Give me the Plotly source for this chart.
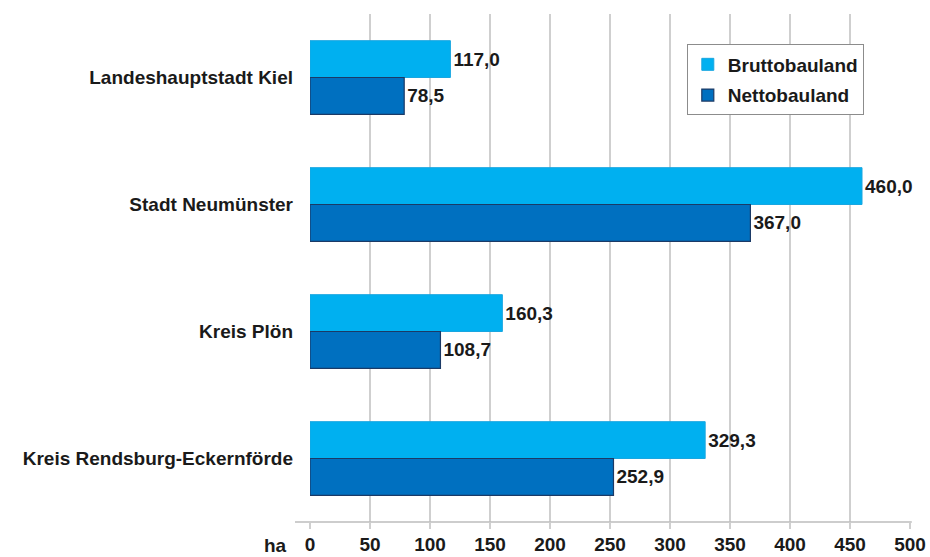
import plotly.graph_objects as go

# Regions and building land areas (ha)
regions = ["Landeshauptstadt Kiel", "Stadt Neumünster", "Kreis Plön", "Kreis Rendsburg-Eckernförde"]
brutto = [117.0, 460.0, 160.3, 329.3]
netto = [78.5, 367.0, 108.7, 252.9]
x_ticks = [0, 50, 100, 150, 200, 250, 300, 350, 400, 450, 500]


def de(v):
    return f"{v:.1f}".replace(".", ",")


FONT = "Liberation Sans, Arial, sans-serif"
SIZE = 19
TXT = dict(family=FONT, size=SIZE, color="#1a1a1a", weight="bold")

fig = go.Figure()
fig.add_trace(go.Bar(
    name="Bruttobauland", y=regions, x=brutto, orientation="h",
    legendgroup="brutto",
    marker=dict(color="#00b0f0", line=dict(color="#19a6e0", width=1)),
    text=[de(v) for v in brutto], textposition="outside", textfont=TXT,
    cliponaxis=False,
))
fig.add_trace(go.Bar(
    name="Nettobauland", y=regions, x=netto, orientation="h",
    legendgroup="netto",
    marker=dict(color="#0070c0", line=dict(color="#1b3a66", width=1.2)),
    text=[de(v) for v in netto], textposition="outside", textfont=TXT,
    cliponaxis=False,
))

fig.update_layout(
    width=930, height=557,
    margin=dict(l=310, r=20, t=14, b=35),
    paper_bgcolor="white", plot_bgcolor="white",
    barmode="group", bargap=0.42, bargroupgap=0,
    font=dict(family=FONT, size=SIZE, color="#1a1a1a"),
    showlegend=True,
    legend=dict(
        x=0.628, y=0.94, xanchor="left", yanchor="top",
        bordercolor="#8c8c8c", borderwidth=1, bgcolor="white",
        font=TXT, tracegroupgap=3, itemwidth=30,
    ),
    xaxis=dict(
        range=[0, 500], tickvals=x_ticks, ticktext=[str(t) for t in x_ticks],
        automargin=False,
        showgrid=True, gridcolor="#cfcfcf", gridwidth=1.5,
        zeroline=False, showline=False,
        ticks="outside", ticklen=6, tickcolor="#cfcfcf", tickwidth=1.5,
        ticklabelstandoff=-1, tickfont=TXT,
    ),
    yaxis=dict(
        autorange="reversed", automargin=False,
        showgrid=False, zeroline=False, showline=False,
        ticks="", ticklabelstandoff=16, tickfont=TXT,
    ),
)

# Horizontal base line of the value axis, extending slightly left of zero
fig.add_shape(type="line", xref="paper", yref="paper",
              x0=-0.025, x1=1.003, y0=0, y1=0,
              line=dict(color="#bdbdbd", width=1.5))

# Unit label next to the value axis
fig.add_annotation(text="ha", xref="paper", yref="paper",
                   x=-0.035, y=0, yshift=-23, xanchor="right", yanchor="middle",
                   showarrow=False, font=TXT)

fig.write_html("out.html")
